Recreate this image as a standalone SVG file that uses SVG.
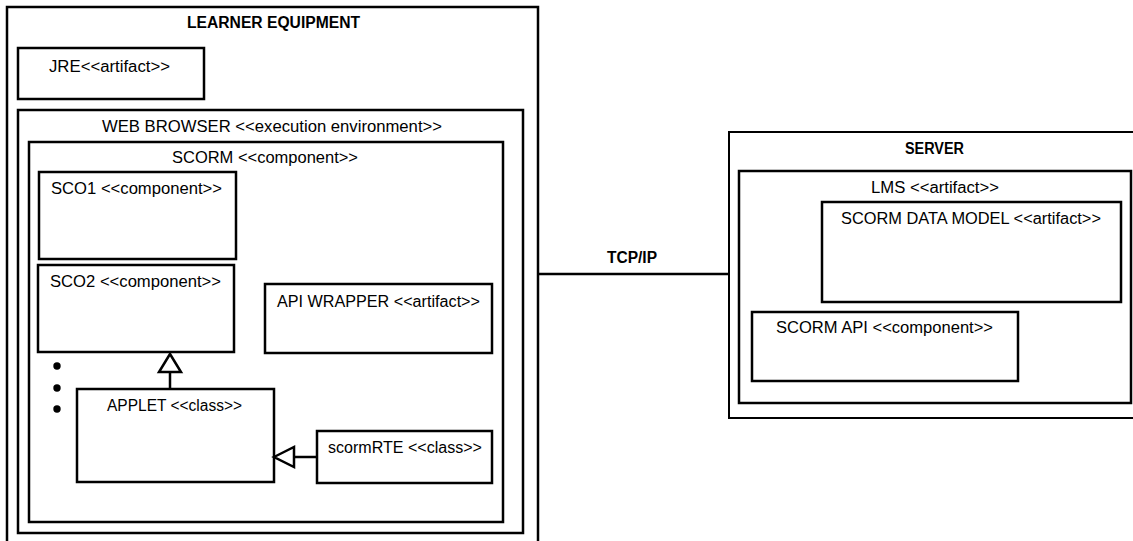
<svg xmlns="http://www.w3.org/2000/svg" width="1133" height="541" viewBox="0 0 1133 541">
  <style>
    .box { fill: none; stroke: #000; stroke-width: 2.5; }
    .thin { fill: none; stroke: #000; stroke-width: 2; }
    .lbl { font-family: "Liberation Sans", Arial, sans-serif; font-size: 16px; fill: #000; }
    .bold { font-weight: bold; }
    .conn { fill: none; stroke: #000; stroke-width: 2.5; }
    .tri { fill: #fff; stroke: #000; stroke-width: 2.5; stroke-linejoin: miter; }
  </style>
  <rect width="1133" height="541" fill="#fff"/>

  <g id="learner-equipment">
    <rect class="box" x="7" y="7" width="531" height="545"/>
    <text class="lbl bold" x="187" y="28" textLength="173" lengthAdjust="spacingAndGlyphs">LEARNER EQUIPMENT</text>
  </g>

  <g id="jre">
    <rect class="box" x="18" y="48" width="186" height="51"/>
    <text class="lbl" x="49" y="72" textLength="121" lengthAdjust="spacingAndGlyphs">JRE&lt;&lt;artifact&gt;&gt;</text>
  </g>

  <g id="web-browser">
    <rect class="box" x="18" y="110" width="505" height="423"/>
    <text class="lbl" x="102" y="132" textLength="340" lengthAdjust="spacingAndGlyphs">WEB BROWSER &lt;&lt;execution environment&gt;&gt;</text>
  </g>

  <g id="scorm">
    <rect class="box" x="29" y="142" width="474" height="380"/>
    <text class="lbl" x="172" y="163" textLength="186" lengthAdjust="spacingAndGlyphs">SCORM &lt;&lt;component&gt;&gt;</text>
  </g>

  <g id="sco1">
    <rect class="box" x="39" y="172" width="197" height="87"/>
    <text class="lbl" x="51" y="194" textLength="171" lengthAdjust="spacingAndGlyphs">SCO1 &lt;&lt;component&gt;&gt;</text>
  </g>

  <g id="sco2">
    <rect class="box" x="38" y="265" width="196" height="87"/>
    <text class="lbl" x="50" y="287" textLength="171" lengthAdjust="spacingAndGlyphs">SCO2 &lt;&lt;component&gt;&gt;</text>
  </g>

  <g id="ellipsis">
    <circle cx="57" cy="366" r="3.7" fill="#000"/>
    <circle cx="57" cy="388" r="3.7" fill="#000"/>
    <circle cx="57" cy="409" r="3.7" fill="#000"/>
  </g>

  <g id="api-wrapper">
    <rect class="box" x="265" y="284" width="227" height="69"/>
    <text class="lbl" x="277" y="307" textLength="203" lengthAdjust="spacingAndGlyphs">API WRAPPER &lt;&lt;artifact&gt;&gt;</text>
  </g>

  <g id="applet">
    <rect class="box" x="77" y="389" width="197" height="93"/>
    <text class="lbl" x="107" y="411" textLength="135" lengthAdjust="spacingAndGlyphs">APPLET &lt;&lt;class&gt;&gt;</text>
  </g>

  <g id="scormrte">
    <rect class="box" x="317" y="431" width="175" height="52"/>
    <text class="lbl" x="328" y="453" textLength="154" lengthAdjust="spacingAndGlyphs">scormRTE &lt;&lt;class&gt;&gt;</text>
  </g>

  <g id="server">
    <rect class="thin" x="729" y="132" width="420" height="286"/>
    <text class="lbl bold" x="905" y="154" textLength="59" lengthAdjust="spacingAndGlyphs">SERVER</text>
  </g>

  <g id="lms">
    <rect class="box" x="739" y="171" width="392" height="232"/>
    <text class="lbl" x="871" y="193" textLength="128" lengthAdjust="spacingAndGlyphs">LMS &lt;&lt;artifact&gt;&gt;</text>
  </g>

  <g id="scorm-data-model">
    <rect class="box" x="822" y="202" width="299" height="100"/>
    <text class="lbl" x="841" y="224" textLength="260" lengthAdjust="spacingAndGlyphs">SCORM DATA MODEL &lt;&lt;artifact&gt;&gt;</text>
  </g>

  <g id="scorm-api">
    <rect class="box" x="752" y="312" width="266" height="69"/>
    <text class="lbl" x="776" y="333" textLength="217" lengthAdjust="spacingAndGlyphs">SCORM API &lt;&lt;component&gt;&gt;</text>
  </g>

  <g id="connectors">
    <line class="conn" x1="170" y1="372" x2="170" y2="389"/>
    <polygon class="tri" points="170,354 181,372 159,372"/>
    <line class="conn" x1="294" y1="457" x2="317" y2="457"/>
    <polygon class="tri" points="274,457 294,447 294,467"/>
    <line class="conn" x1="538" y1="274" x2="729" y2="274"/>
    <text class="lbl bold" x="607" y="263" textLength="50" lengthAdjust="spacingAndGlyphs">TCP/IP</text>
  </g>
</svg>
